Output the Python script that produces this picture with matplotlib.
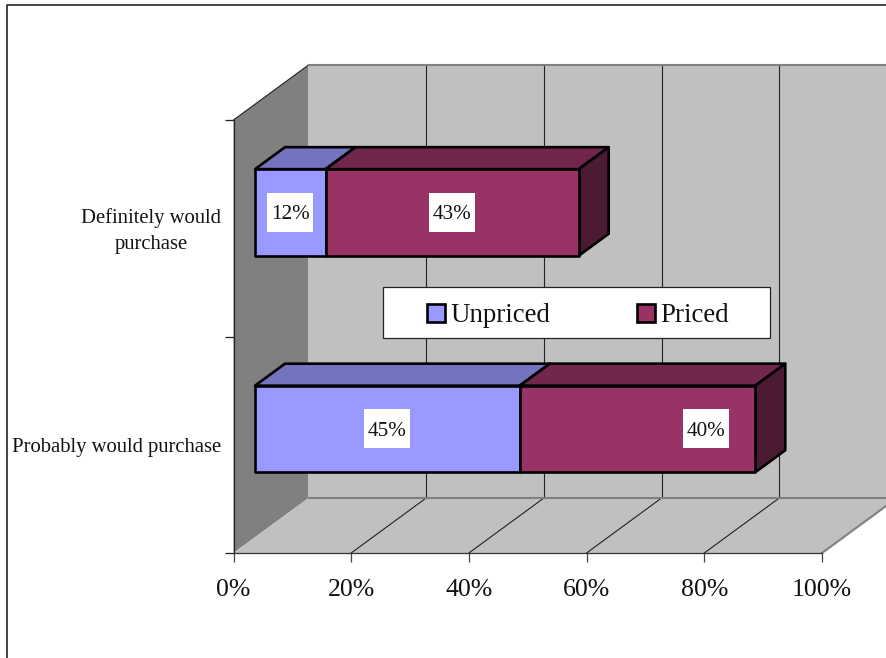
"""
Stacked 3D-look horizontal bars: purchase intent, unpriced vs priced.
Walls, floor and bar depth are drawn as oblique polygons on a flat axes.
"""
import matplotlib
matplotlib.use('Agg')
import matplotlib.pyplot as plt
from matplotlib.lines import Line2D
from matplotlib.patches import Patch, Polygon, Rectangle
from matplotlib.transforms import ScaledTranslation

plt.rcParams['font.family'] = ['Liberation Serif', 'DejaVu Serif']

categories = ['Probably would purchase', 'Definitely would\npurchase']
series_names = ['Unpriced', 'Priced']
unpriced = [45, 12]
priced = [40, 43]
xticks = [0, 20, 40, 60, 80, 100]

W, H = 886, 658
# front plane of the chart in pixels
LEFT, RIGHT, TOP, BOTTOM = 233.5, 822, 120, 553
PX_X = 100 / (RIGHT - LEFT)
PX_Y = 2 / (BOTTOM - TOP)
DEPTH_X = 75 * PX_X
DEPTH_Y = 55 * PX_Y

BLACK = '#000000'
WALL = '#808080'
BACK = '#C0C0C0'
# front, top, side shades of each series
SHADES = [('#9999FF', '#7373BF', '#4D4D80'), ('#993366', '#73264D', '#4D1A33')]


def proj(x, y, d):
    """oblique projection, d runs from 0 at the front to 1 at the back wall"""
    return (x + d * DEPTH_X, y + d * DEPTH_Y)


def poly(ax, pts, fc, ec='none', lw=0, z=1):
    ax.add_patch(Polygon(pts, closed=True, fc=fc, ec=ec, lw=lw, zorder=z,
                         clip_on=False, joinstyle='round'))


def draw_box(ax, x0, x1, yc, shades, z):
    d0, d1 = 0.287, 0.687
    h = 0.2
    front, top, side = shades
    lw = 1.9
    poly(ax, [proj(x0, yc + h, d0), proj(x1, yc + h, d0), proj(x1, yc + h, d1), proj(x0, yc + h, d1)],
         top, BLACK, lw, z)
    poly(ax, [proj(x1, yc - h, d0), proj(x1, yc - h, d1), proj(x1, yc + h, d1), proj(x1, yc + h, d0)],
         side, BLACK, lw, z)
    poly(ax, [proj(x0, yc - h, d0), proj(x1, yc - h, d0), proj(x1, yc + h, d0), proj(x0, yc + h, d0)],
         front, BLACK, lw, z)


def value_label(ax, xc, yc, value):
    # white box behind the number, fixed size in pixels
    x, y = proj(xc, yc, 0.287)
    bw, bh = 46 * PX_X, 39 * PX_Y
    ax.add_patch(Rectangle((x - bw / 2, y - bh / 2), bw, bh, fc='white', ec='none', zorder=20))
    ax.text(x, y, '%d%%' % value, ha='center', va='center_baseline', fontsize=15.2, color='#111111', zorder=21)


fig = plt.figure(figsize=(W / 100, H / 100), dpi=100, facecolor='white')
ax = fig.add_axes([LEFT / W, 1 - BOTTOM / H, (RIGHT - LEFT) / W, (BOTTOM - TOP) / H])
ax.set_xlim(0, 100)
ax.set_ylim(0, 2)
ax.patch.set_visible(False)

# left wall, back wall, floor
poly(ax, [proj(0, 0, 0), proj(0, 0, 1), proj(0, 2, 1), proj(0, 2, 0)], WALL)
poly(ax, [proj(0, 0, 1), proj(100, 0, 1), proj(100, 2, 1), proj(0, 2, 1)], BACK)
poly(ax, [proj(0, 0, 0), proj(100, 0, 0), proj(100, 0, 1), proj(0, 0, 1)], BACK)

# grid on back wall and floor
for t in xticks[1:-1]:
    ax.plot(*zip(proj(t, 0, 1), proj(t, 2, 1)), color='#222222', lw=0.8, zorder=2, clip_on=False)
    ax.plot(*zip(proj(t, 0, 0), proj(t, 0, 1)), color='#222222', lw=0.8, zorder=2, clip_on=False)

ax.plot(*zip(proj(0, 2, 0), proj(0, 2, 1)), color='#222222', lw=0.8, zorder=2, clip_on=False)
ax.plot(*zip(proj(0, 2, 1), proj(100, 2, 1)), color=WALL, lw=1.5, zorder=2, clip_on=False)
ax.plot(*zip(proj(0, 0, 1), proj(100, 0, 1)), color=WALL, lw=1.5, zorder=2, clip_on=False)
ax.plot(*zip(proj(100, 0, 0), proj(100, 0, 1)), color=WALL, lw=1.5, zorder=2, clip_on=False)

# bars, upper one first
for i in [1, 0]:
    draw_box(ax, 0, unpriced[i], i + 0.5, SHADES[0], 5)
    draw_box(ax, unpriced[i], unpriced[i] + priced[i], i + 0.5, SHADES[1], 5)

value_label(ax, unpriced[1] / 2, 1.5, unpriced[1])
value_label(ax, unpriced[1] + priced[1] / 2, 1.5, priced[1])
value_label(ax, unpriced[0] / 2, 0.5, unpriced[0])
# this label sits towards the right end of its segment
value_label(ax, unpriced[0] + priced[0] * 0.79, 0.5, priced[0])

# axes
for side in ['top', 'right']:
    ax.spines[side].set_visible(False)
ax.spines['left'].set_color('#222222')
ax.spines['bottom'].set_color('#333333')
ax.spines['left'].set_linewidth(0.9)
ax.spines['bottom'].set_linewidth(0.9)
ax.spines['left'].set_zorder(3)
ax.spines['bottom'].set_zorder(3)
ax.set_xticks(xticks)
ax.set_xticklabels(['%d%%' % t for t in xticks], fontsize=18.6, color='#111111')
ax.tick_params(axis='x', length=6.5, width=0.9, color='#444444', pad=12)
ax.set_yticks([0, 1, 2])
ax.set_yticklabels([])
ax.tick_params(axis='y', which='major', length=6.5, width=0.9, color='#222222')
ax.set_yticks([0.5, 1.5], minor=True)
ylabels = ax.set_yticklabels(categories, minor=True, fontsize=14.9, color='#111111',
                             multialignment='center', linespacing=1.52)
ax.tick_params(axis='y', which='minor', length=0, pad=9)
# two-line label needs a small nudge upwards
ylabels[1].set_transform(ylabels[1].get_transform() + ScaledTranslation(0, 3 / 100, fig.dpi_scale_trans))

# legend frame is a separate box so the entries can sit inside it with wide margins
ax.add_patch(Rectangle((383 / W, 1 - 338.5 / H), 386.5 / W, 51 / H, transform=fig.transFigure,
                       fc='white', ec='#222222', lw=0.9, zorder=25, clip_on=False))
handles = [Patch(fc=SHADES[k][0], ec=BLACK, lw=1.9, joinstyle='miter') for k in range(2)]
leg = ax.legend(handles, series_names, ncol=2, loc='center',
                bbox_to_anchor=(578 / W, 1 - 316 / H), bbox_transform=fig.transFigure,
                fontsize=19.4, frameon=False, borderaxespad=0, borderpad=0, handlelength=0.66,
                handleheight=0.66, handletextpad=0.22, columnspacing=3.2, labelcolor='#111111')
leg.set_zorder(30)

# outer frame only shows on the left and top
fig.add_artist(Line2D([6.5 / W, 6.5 / W, 1], [0, 1 - 4.5 / H, 1 - 4.5 / H], color='#111111', lw=1.1,
                      transform=fig.transFigure))

fig.savefig('out.png', dpi=100)
